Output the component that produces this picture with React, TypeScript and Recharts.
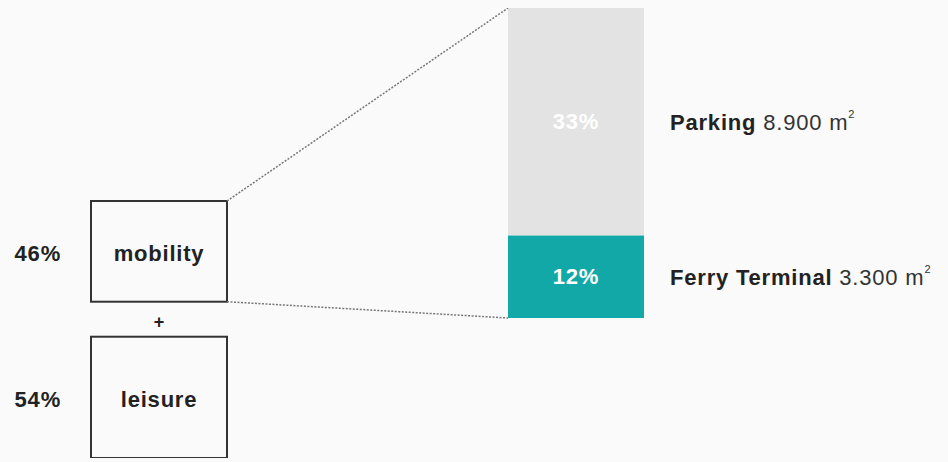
import { BarChart, Bar, XAxis, YAxis, LabelList } from "recharts";

const categories = ["mix", "link", "zoom"];
const shareNames = ["mobility", "leisure"];
const shareValues = [46, 54];
const useNames = ["Parking", "Ferry Terminal"];
const usePercents = [33, 12];
const useAreas = [8900, 3300];

const data = categories.map((name) => {
  const row: Record<string, string | number> = { name };
  if (name === "mix") shareNames.forEach((n, i) => (row[n] = shareValues[i]));
  if (name === "zoom") useNames.forEach((n, i) => (row[n] = usePercents[i]));
  return row;
});

const FONT = "'Liberation Sans', Arial, sans-serif";
const SIZE = 22;
const SPACING = 0.8;
const GAP = 35;
const TEAL = "#12a8a7";
const GREY = "#e3e3e3";
const INK = "#222";

type Rect = { x: number; y: number; width: number; height: number };
// box geometry, filled in while the mobility box renders, read by the zoom bar
const geo: { box?: Rect } = {};

const fmtArea = (n: number) => String(n).replace(/\B(?=(\d{3})+(?!\d))/g, ".");

function BoxShape(props: any) {
  const { x, y, width, height, payload, name } = props;
  if (payload[name] == null || !height) return null;
  const isTop = name === shareNames[0];
  const top = isTop ? y : y + GAP / 2;
  const h = height - GAP / 2;
  if (isTop) geo.box = { x, y: top, width, height: h };
  const cx = x + width / 2;
  const cy = top + h / 2 + 2;
  return (
    <g>
      <rect x={x} y={top} width={width} height={h} fill="none" stroke="#333" strokeWidth={2} />
      <text x={cx} y={cy} textAnchor="middle" dominantBaseline="central" fontFamily={FONT}
        fontWeight={700} fontSize={SIZE} letterSpacing={SPACING} fill={INK}>
        {name}
      </text>
      <text x={x - 30} y={cy} textAnchor="end" dominantBaseline="central" fontFamily={FONT}
        fontWeight={700} fontSize={SIZE} letterSpacing={SPACING} fill={INK}>
        {`${payload[name]}%`}
      </text>
      {isTop && (
        <text x={cx} y={y + height + 3} textAnchor="middle" dominantBaseline="central"
          fontFamily={FONT} fontWeight={700} fontSize={18} fill={INK}>
          +
        </text>
      )}
    </g>
  );
}

function ZoomShape(props: any) {
  const { x, y, width, height, payload, name, fill } = props;
  if (payload[name] == null || !height) return null;
  const box = geo.box;
  const isTop = name === useNames[0];
  return (
    <g>
      <rect x={x} y={y} width={width} height={height} fill={fill} />
      {box && (
        <line
          x1={box.x + box.width}
          y1={isTop ? box.y : box.y + box.height}
          x2={x}
          y2={isTop ? y : y + height}
          stroke="#777"
          strokeWidth={1.5}
          strokeDasharray="2 1.5"
        />
      )}
    </g>
  );
}

function SideLabel(props: any) {
  const { x, y, width, height, value, index, name } = props;
  if (value == null || data[index].name !== "zoom") return null;
  const i = useNames.indexOf(name);
  return (
    <text x={x + width + 26} y={y + height / 2} dominantBaseline="central" fontFamily={FONT}
      fontSize={SIZE} letterSpacing={SPACING} fill={INK}>
      <tspan fontWeight={700}>{name}</tspan>
      <tspan fill="#333">{` ${fmtArea(useAreas[i])} m`}</tspan>
      <tspan fontSize={11} dy={-8} fill="#333">2</tspan>
    </text>
  );
}

export default function App() {
  return (
    <div style={{ position: "absolute", left: 0, top: 0, background: "#fafafa" }}>
      <BarChart
        width={948}
        height={462}
        data={data}
        margin={{ top: 8, right: 267.5, bottom: 4, left: 55 }}
        barSize={136}
        barGap={-136}
      >
        <XAxis dataKey="name" hide />
        <YAxis yAxisId="share" type="number" domain={[0, 175.1]} allowDataOverflow hide />
        <YAxis yAxisId="area" type="number" domain={[-20.32, 45]} allowDataOverflow hide />
        <Bar yAxisId="share" stackId="share" dataKey={shareNames[1]} isAnimationActive={false}
          shape={(p: any) => <BoxShape {...p} name={shareNames[1]} />} />
        <Bar yAxisId="share" stackId="share" dataKey={shareNames[0]} isAnimationActive={false}
          shape={(p: any) => <BoxShape {...p} name={shareNames[0]} />} />
        {[useNames[1], useNames[0]].map((n) => (
          <Bar key={n} yAxisId="area" stackId="area" dataKey={n} fill={n === useNames[1] ? TEAL : GREY}
            isAnimationActive={false} shape={(p: any) => <ZoomShape {...p} name={n} />}>
            <LabelList dataKey={n} position="center" fill="#fff" fontFamily={FONT} fontWeight={700}
              fontSize={SIZE} letterSpacing={SPACING} formatter={(v: any) => (v == null ? "" : `${v}%`)} />
            <LabelList dataKey={n} content={(p: any) => <SideLabel {...p} name={n} />} />
          </Bar>
        ))}
      </BarChart>
    </div>
  );
}
